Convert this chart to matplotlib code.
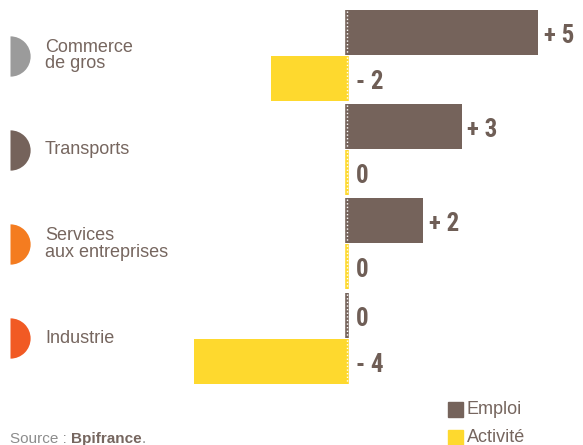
import matplotlib
matplotlib.use("Agg")
import matplotlib.pyplot as plt
import matplotlib.transforms as mtransforms
from matplotlib import font_manager

# Data
categories = ["Commerce\nde gros", "Transports", "Services\naux entreprises", "Industrie"]
emploi = [5, 3, 2, 0]
activite = [-2, 0, 0, -4]
marker_colors = ["#9b9b9b", "#75635b", "#f47c20", "#f15a24"]
series_names = ["Emploi", "Activité"]

EMPLOI_COLOR = "#75635b"
ACTIVITE_COLOR = "#fed92e"
TEXT_COLOR = "#76665f"
VALUE_COLOR = "#6f5e56"


def condensed_bold():
    """Pick a condensed/narrow bold face for the value labels if one is installed."""
    prefs = ["liberationsansnarrow-bold", "robotocondensed-bold", "robotocondensed-black",
             "notosans-condensedextrabold", "notosans-condensedbold",
             "dejavusanscondensed-bold", "opensans-condensedbold",
             "robotocondensed", "notosans-condensed"]
    files = [f.fname for f in font_manager.fontManager.ttflist]
    low = {fn.lower().replace(" ", "").replace("_", "-"): fn for fn in files}
    for p in prefs:
        for key, fn in low.items():
            base = key.rsplit("/", 1)[-1]
            if base.startswith(p) and "italic" not in base:
                return font_manager.FontProperties(fname=fn)
    for key, fn in low.items():
        base = key.rsplit("/", 1)[-1]
        if ("condensed" in base or "narrow" in base) and "bold" in base and "italic" not in base:
            return font_manager.FontProperties(fname=fn)
    return font_manager.FontProperties(family="Roboto", weight="bold")


value_font = condensed_bold()
value_font.set_size(18)

plt.rcParams["font.family"] = ["Liberation Sans", "DejaVu Sans"]

W, H = 583, 445
fig = plt.figure(figsize=(W / 100, H / 100), dpi=100)
ax = fig.add_axes([0, 0, 1, 1])
ax.set_axis_off()

# scale: zero at pixel 347, 38.2 px per unit; groups every 94 px starting at 56 px
x0, unit = 347, 38.2
ax.set_xlim(-x0 / unit, (W - x0) / unit)
y0, gap = 55.5, 94.2
ax.set_ylim((H - y0) / gap, -y0 / gap)

bar_h = 45 / gap
off = 23 / gap
idx = list(range(len(categories)))
ye = [i - off for i in idx]
ya = [i + off for i in idx]

ax.barh(ye, emploi, height=bar_h, color=EMPLOI_COLOR, linewidth=0)
ax.barh(ya, activite, height=bar_h, color=ACTIVITE_COLOR, linewidth=0)

# zero stubs with dotted white axis line over each bar
for ys, vals, col in ((ye, emploi, EMPLOI_COLOR), (ya, activite, ACTIVITE_COLOR)):
    for y, v in zip(ys, vals):
        ax.plot([0, 0], [y - bar_h / 2, y + bar_h / 2], color=col, lw=2.6,
                solid_capstyle="butt", zorder=3)
        ax.plot([0, 0], [y - bar_h / 2 + 0.01, y + bar_h / 2 - 0.01], color="white",
                lw=1.0, linestyle=(0, (1, 1.6)), zorder=4)


def fmt(v):
    if v > 0:
        return f"+ {v}"
    if v < 0:
        return f"- {abs(v)}"
    return "0"


for ys, vals in ((ye, emploi), (ya, activite)):
    for y, v in zip(ys, vals):
        ax.annotate(fmt(v), xy=(max(v, 0), y), xytext=(4 if v > 0 else 6.5, -7.5),
                    textcoords="offset points", va="baseline", ha="left",
                    fontproperties=value_font, color=VALUE_COLOR)

# half-disc markers and category names
trans = mtransforms.blended_transform_factory(ax.transAxes, ax.transData)
for i, (cat, mc) in enumerate(zip(categories, marker_colors)):
    ax.plot([10 / W], [i], transform=trans, marker="o", markersize=29,
            fillstyle="right", markerfacecolor=mc, markerfacecoloralt="none",
            markeredgewidth=0, clip_on=False)
    ax.text(45 / W, i, cat, transform=trans, va="center", ha="left",
            fontsize=13, color=TEXT_COLOR, linespacing=1.0)

# legend
for k, (name, col) in enumerate(zip(series_names, [EMPLOI_COLOR, ACTIVITE_COLOR])):
    yy = 1 - (409.5 + k * 28) / H
    fig.patches.append(plt.Rectangle((448 / W, yy - 7.5 / H), 15 / W, 15 / H,
                                     transform=fig.transFigure, color=col))
    fig.text(467 / W, yy, name, va="center", ha="left", fontsize=13, color=TEXT_COLOR)

# source line
src = fig.text(10 / W, 1 - 443 / H, "Source : ", ha="left", va="baseline",
               fontsize=11, color="#8c8c8c")
b = fig.text(0, 0, "Bpifrance", fontsize=11, fontweight="bold", color=TEXT_COLOR,
             ha="left", va="baseline")
fig.canvas.draw()
r = fig.canvas.get_renderer()
bb = src.get_window_extent(r)
b.set_position((bb.x1 / W, 1 - 443 / H))
bb2 = b.get_window_extent(r)
fig.text(bb2.x1 / W, 1 - 443 / H, ".", fontsize=11, color="#8c8c8c", ha="left",
         va="baseline")

fig.savefig("out.png", dpi=100)
